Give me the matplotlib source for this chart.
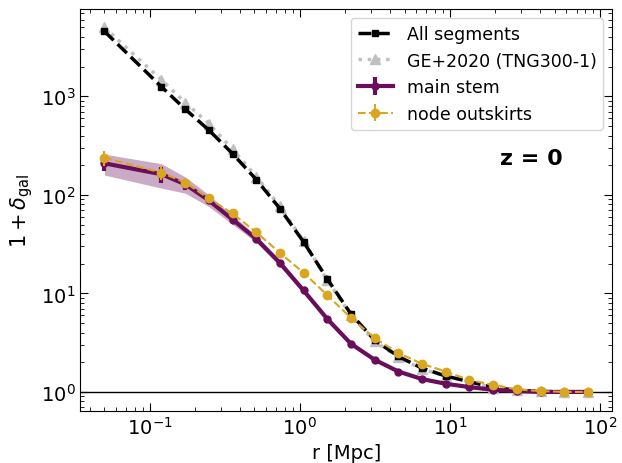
import numpy as np
import matplotlib
matplotlib.use("Agg")
import matplotlib.pyplot as plt

r = [0.05, 0.120, 0.173, 0.248, 0.357, 0.514, 0.738, 1.062, 1.528, 2.198, 3.16,
     4.55, 6.54, 9.40, 13.5, 19.5, 28.0, 40.3, 57.9, 83.3]

all_segments = [4570, 1250, 740, 455, 262, 143, 72.7, 33.3, 14.0, 6.17, 3.35,
                2.29, 1.74, 1.45, 1.27, 1.11, 1.04, 1.01, 1.0, 1.0]
ge2020 = [5000, 1470, 865, 530, 290, 153, 76.8, 34.0, 13.6, 6.0, 3.25,
          2.25, 1.70, 1.45, 1.27, 1.10, 1.05, 1.01, 1.0, 1.0]

main_stem = [209, 162, 128, 88, 56.2, 35.8, 20.4, 10.7, 5.5, 3.08, 2.12,
             1.61, 1.35, 1.21, 1.12, 1.05, 1.02, 1.0, 1.0, 1.0]
main_err = [35, 30, 15, 8, 4, 2, 1, 0.4, 0.2, 0.08, 0.04,
            0.03, 0.02, 0.01, 0.01, 0.01, 0.01, 0.01, 0.01, 0.01]
main_band = [50, 45, 24, 12, 6, 3, 1.5, 0.7, 0.3, 0.12, 0.07,
             0.05, 0.04, 0.03, 0.03, 0.02, 0.02, 0.02, 0.02, 0.02]

node_out = [238, 168, 133, 92, 64.7, 41.7, 25.8, 16.2, 9.6, 5.62, 3.52,
            2.48, 1.93, 1.61, 1.32, 1.18, 1.06, 1.02, 1.0, 1.0]
node_err = [42, 27, 14, 8, 4, 2, 1, 0.5, 0.25, 0.1, 0.05,
            0.03, 0.02, 0.02, 0.01, 0.01, 0.01, 0.01, 0.01, 0.01]

purple = "#6a0d5a"
gold = "#daa520"

fig = plt.figure(figsize=(6.22, 4.64), dpi=100)
ax = fig.add_axes([0.129, 0.112, 0.855, 0.866])

ax.axhline(1.0, color="black", lw=1.0, zorder=1)

ax.plot(r, ge2020, ls=":", color="#c0c0c0", lw=2.5, marker="^", ms=7,
        label="GE+2020 (TNG300-1)", zorder=3)
ax.plot(r, all_segments, ls="--", color="black", lw=2.5, marker="s", ms=5,
        label="All segments", zorder=4)

ms_arr = np.array(main_stem)
mb_arr = np.array(main_band)
ax.fill_between(r, ms_arr - mb_arr, ms_arr + mb_arr, color=purple, alpha=0.35,
                lw=0, zorder=2)
ax.errorbar(r, main_stem, yerr=main_err, color=purple, lw=3, marker="o", ms=5,
            elinewidth=3, capsize=0, label="main stem", zorder=5)
ax.errorbar(r, node_out, yerr=node_err, color=gold, lw=1.5, ls="--", marker="o",
            ms=6, elinewidth=1.5, capsize=0, label="node outskirts", zorder=6)

ax.set_xscale("log")
ax.set_yscale("log")
ax.set_xlabel("r [Mpc]", fontsize=14)
ax.set_ylabel(r"$1 + \delta_{\rm gal}$", fontsize=15)
ax.tick_params(which="both", direction="in", top=True, right=True, labelsize=14)
ax.tick_params(which="major", length=6)
ax.tick_params(which="minor", length=3)

h, l = ax.get_legend_handles_labels()
order = [l.index(n) for n in ["All segments", "GE+2020 (TNG300-1)", "main stem", "node outskirts"]]
ax.legend([h[i] for i in order], [l[i] for i in order], loc="upper right", fontsize=12.5)

ax.text(0.79, 0.615, "z = 0", transform=ax.transAxes, fontsize=16, fontweight="bold")

fig.savefig("out.png", dpi=100)
